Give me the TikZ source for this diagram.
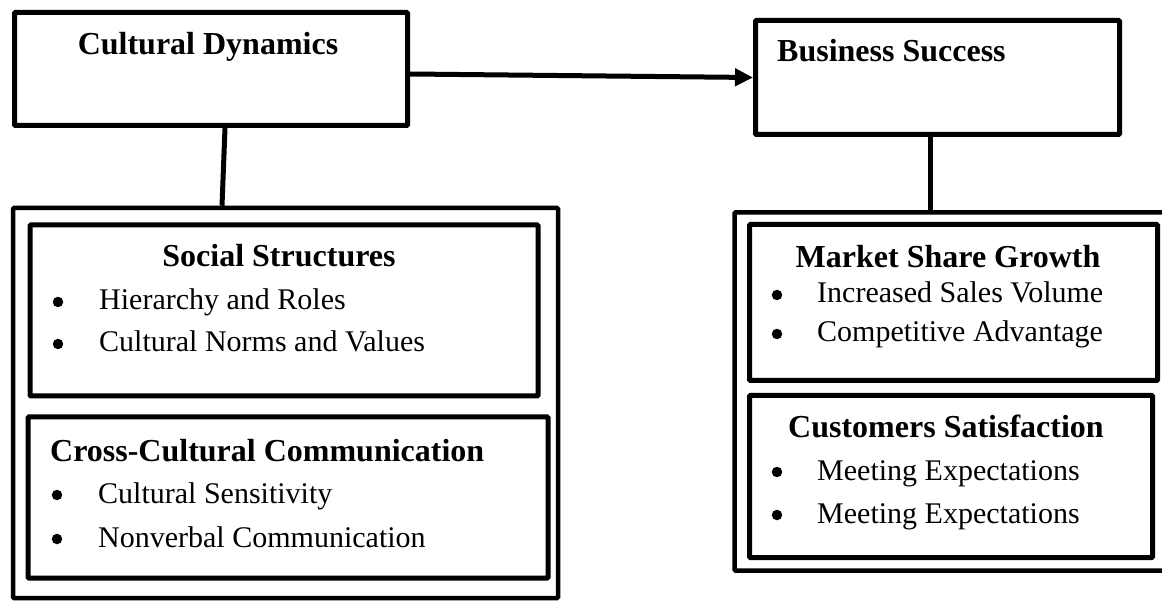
\documentclass[tikz,border=0pt]{standalone}
\usepackage{fontspec}
\setmainfont{Liberation Serif}
\usetikzlibrary{arrows.meta}
\begin{document}
\begin{tikzpicture}[x=1pt,y=-1pt,
  frame/.style={draw, line width=5pt, rectangle, inner sep=0pt, rounded corners=1pt},
  holder/.style={frame, line width=4.5pt},
  ttl/.style={font=\fontsize{32}{38}\selectfont\bfseries, inner sep=0pt, anchor=base},
  itm/.style={font=\fontsize{30}{36}\selectfont, inner sep=0pt, anchor=base west},
  bul/.style={circle, fill, draw=none, minimum size=10.5pt, inner sep=0pt},
  link/.style={line width=5pt}]
\useasboundingbox (0,0) rectangle (1162,601);
\begin{scope}
\clip (0,0) rectangle (1162,601);

% top level boxes
\node[frame, minimum width=393pt, minimum height=113pt] (cd) at (211,69) {};
\node[frame, minimum width=364pt, minimum height=114pt] (bs) at (937.5,77.5) {};

% containers
\node[holder, minimum width=545pt, minimum height=390pt] (lo) at (285.5,403) {};
\node[holder, minimum width=438pt, minimum height=358pt] (ro) at (953.5,391.5) {};

% inner boxes
\node[frame, minimum width=508pt, minimum height=171pt] (ss) at (284,310.5) {};
\node[frame, minimum width=520pt, minimum height=161pt] (cc) at (288,497.5) {};
\node[frame, minimum width=408pt, minimum height=156pt] (msg) at (953.5,302.5) {};
\node[frame, minimum width=403pt, minimum height=162pt] (cs) at (951,476.5) {};

% connectors
\draw[link] ([xshift=14pt]cd.south) -- ([xshift=-63.5pt]lo.north);
\draw[link] ([xshift=-7.5pt]bs.south) -- ([xshift=-23.5pt]ro.north);
\draw[link, -{Triangle[length=18pt,width=17pt]}] ([yshift=-5pt]cd.east) -- (bs.west);

% titles
\node[ttl] (tcd) at (208,55) {Cultural Dynamics};
\node[ttl, anchor=base west] (tbs) at (777,62) {Business Success};
\node[ttl] (tss) at (279,267) {Social Structures};
\node[ttl, anchor=base west] (tcc) at (50,461) {Cross-Cultural Communication};
\node[ttl] (tmsg) at (948,268) {Market Share Growth};
\node[ttl] (tcs) at (946,437) {Customers Satisfaction};

% bullet items
\node[bul] (b1) at (58,302) {};
\node[itm] (i1) at (99,310) {Hierarchy and Roles};
\node[bul] (b2) at (58,344) {};
\node[itm] (i2) at (99,352) {Cultural Norms and Values};
\node[bul] (b3) at (57,495) {};
\node[itm] (i3) at (98,503) {Cultural Sensitivity};
\node[bul] (b4) at (57,539) {};
\node[itm] (i4) at (98,547) {Nonverbal Communication};
\node[bul] (b5) at (777,295) {};
\node[itm] (i5) at (817,303) {Increased Sales Volume};
\node[bul] (b6) at (777,334) {};
\node[itm] (i6) at (817,342) {Competitive Advantage};
\node[bul] (b7) at (777,472) {};
\node[itm] (i7) at (817,480) {Meeting Expectations};
\node[bul] (b8) at (777,515) {};
\node[itm] (i8) at (817,523) {Meeting Expectations};
\end{scope}
\end{tikzpicture}
\end{document}
